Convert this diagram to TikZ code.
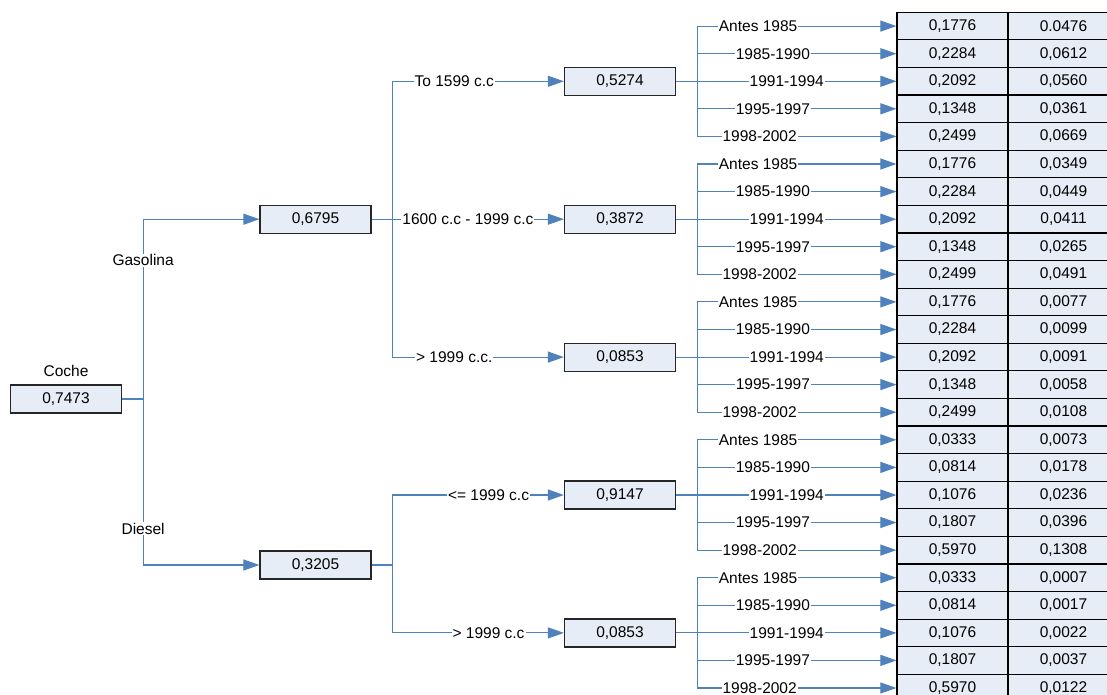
\documentclass[tikz,border=0pt]{standalone}
\usepackage{fontspec}
\setmainfont{Liberation Sans}
\usetikzlibrary{arrows.meta}
\definecolor{linkblue}{RGB}{79,129,189}
\definecolor{boxfill}{RGB}{231,237,247}

\begin{document}
\begin{tikzpicture}[x=1pt,y=-1pt,font=\fontsize{15.5}{18}\selectfont,
	link/.style={draw=linkblue,line width=1.1pt},
	arr/.style={link,-{Triangle[length=16pt,width=11pt]}},
	lbl/.style={fill=white,inner sep=1pt}]
	\clip (0,0) rectangle (1107,695);
	\begin{scope}[every node/.style={draw=black!85,fill=boxfill,line width=1.2pt,minimum width=111pt,minimum height=28pt,inner sep=0pt}]
		\node (coche) at (66,399) {0,7473};
		\node (gas) at (315.5,219.2) {0,6795};
		\node (die) at (315.5,565) {0,3205};
		\node (m1) at (620,81.3) {0,5274};
		\node (m2) at (620,219.2) {0,3872};
		\node (m3) at (620,357.1) {0,0853};
		\node (m4) at (620,495.0) {0,9147};
		\node (m5) at (620,632.9) {0,0853};
	\end{scope}
	\begin{scope}[every node/.style={draw=black,fill=boxfill,line width=1.2pt,minimum width=111pt,minimum height=27.6pt,inner sep=0pt}]
		\node (a1) at (952.5,26.1) {0,1776};
		\node (a2) at (952.5,53.7) {0,2284};
		\node (a3) at (952.5,81.3) {0,2092};
		\node (a4) at (952.5,108.8) {0,1348};
		\node (a5) at (952.5,136.4) {0,2499};
		\node (a6) at (952.5,164.0) {0,1776};
		\node (a7) at (952.5,191.6) {0,2284};
		\node (a8) at (952.5,219.2) {0,2092};
		\node (a9) at (952.5,246.7) {0,1348};
		\node (a10) at (952.5,274.3) {0,2499};
		\node (a11) at (952.5,301.9) {0,1776};
		\node (a12) at (952.5,329.5) {0,2284};
		\node (a13) at (952.5,357.1) {0,2092};
		\node (a14) at (952.5,384.6) {0,1348};
		\node (a15) at (952.5,412.2) {0,2499};
		\node (a16) at (952.5,439.8) {0,0333};
		\node (a17) at (952.5,467.4) {0,0814};
		\node (a18) at (952.5,495.0) {0,1076};
		\node (a19) at (952.5,522.5) {0,1807};
		\node (a20) at (952.5,550.1) {0,5970};
		\node (a21) at (952.5,577.7) {0,0333};
		\node (a22) at (952.5,605.3) {0,0814};
		\node (a23) at (952.5,632.9) {0,1076};
		\node (a24) at (952.5,660.4) {0,1807};
		\node (a25) at (952.5,688.0) {0,5970};
		\node (b1) at (1063.5,26.1) {0.0476};
		\node (b2) at (1063.5,53.7) {0,0612};
		\node (b3) at (1063.5,81.3) {0,0560};
		\node (b4) at (1063.5,108.8) {0,0361};
		\node (b5) at (1063.5,136.4) {0,0669};
		\node (b6) at (1063.5,164.0) {0,0349};
		\node (b7) at (1063.5,191.6) {0,0449};
		\node (b8) at (1063.5,219.2) {0,0411};
		\node (b9) at (1063.5,246.7) {0,0265};
		\node (b10) at (1063.5,274.3) {0,0491};
		\node (b11) at (1063.5,301.9) {0,0077};
		\node (b12) at (1063.5,329.5) {0,0099};
		\node (b13) at (1063.5,357.1) {0,0091};
		\node (b14) at (1063.5,384.6) {0,0058};
		\node (b15) at (1063.5,412.2) {0,0108};
		\node (b16) at (1063.5,439.8) {0,0073};
		\node (b17) at (1063.5,467.4) {0,0178};
		\node (b18) at (1063.5,495.0) {0,0236};
		\node (b19) at (1063.5,522.5) {0,0396};
		\node (b20) at (1063.5,550.1) {0,1308};
		\node (b21) at (1063.5,577.7) {0,0007};
		\node (b22) at (1063.5,605.3) {0,0017};
		\node (b23) at (1063.5,632.9) {0,0022};
		\node (b24) at (1063.5,660.4) {0,0037};
		\node (b25) at (1063.5,688.0) {0,0122};
	\end{scope}
	\node (cochelbl) at (66,371) {Coche};

	% fuel
	\draw[arr] (coche.east) -- ++(21,0) |- node[lbl,pos=0.386] {Gasolina} (gas.west);
	\draw[arr] (coche.east) -- ++(21,0) |- node[lbl,pos=0.39] {Diesel} (die.west);

	% engine size
	\draw[arr] (gas.east) -- ++(21,0) |- node[lbl,pos=0.68] {To 1599 c.c} (m1.west);
	\draw[arr] (gas.east) -- ++(21,0) |- node[lbl,pos=0.72] {1600 c.c - 1999 c.c} (m2.west);
	\draw[arr] (gas.east) -- ++(21,0) |- node[lbl,pos=0.68] {> 1999 c.c.} (m3.west);
	\draw[arr] (die.east) -- ++(21,0) |- node[lbl,pos=0.78] {<= 1999 c.c} (m4.west);
	\draw[arr] (die.east) -- ++(21,0) |- node[lbl,pos=0.78] {> 1999 c.c} (m5.west);

	% age
	\draw[arr] (m1.east) -- ++(21,0) |- node[lbl,pos=0.653] {Antes 1985} (a1.west);
	\draw[arr] (m1.east) -- ++(21,0) |- node[lbl,pos=0.69] {1985-1990} (a2.west);
	\draw[arr] (m1.east) -- ++(21,0) |- node[lbl,pos=0.725] {1991-1994} (a3.west);
	\draw[arr] (m1.east) -- ++(21,0) |- node[lbl,pos=0.69] {1995-1997} (a4.west);
	\draw[arr] (m1.east) -- ++(21,0) |- node[lbl,pos=0.657] {1998-2002} (a5.west);
	\draw[arr] (m2.east) -- ++(21,0) |- node[lbl,pos=0.653] {Antes 1985} (a6.west);
	\draw[arr] (m2.east) -- ++(21,0) |- node[lbl,pos=0.69] {1985-1990} (a7.west);
	\draw[arr] (m2.east) -- ++(21,0) |- node[lbl,pos=0.725] {1991-1994} (a8.west);
	\draw[arr] (m2.east) -- ++(21,0) |- node[lbl,pos=0.69] {1995-1997} (a9.west);
	\draw[arr] (m2.east) -- ++(21,0) |- node[lbl,pos=0.657] {1998-2002} (a10.west);
	\draw[arr] (m3.east) -- ++(21,0) |- node[lbl,pos=0.653] {Antes 1985} (a11.west);
	\draw[arr] (m3.east) -- ++(21,0) |- node[lbl,pos=0.69] {1985-1990} (a12.west);
	\draw[arr] (m3.east) -- ++(21,0) |- node[lbl,pos=0.725] {1991-1994} (a13.west);
	\draw[arr] (m3.east) -- ++(21,0) |- node[lbl,pos=0.69] {1995-1997} (a14.west);
	\draw[arr] (m3.east) -- ++(21,0) |- node[lbl,pos=0.657] {1998-2002} (a15.west);
	\draw[arr] (m4.east) -- ++(21,0) |- node[lbl,pos=0.653] {Antes 1985} (a16.west);
	\draw[arr] (m4.east) -- ++(21,0) |- node[lbl,pos=0.69] {1985-1990} (a17.west);
	\draw[arr] (m4.east) -- ++(21,0) |- node[lbl,pos=0.725] {1991-1994} (a18.west);
	\draw[arr] (m4.east) -- ++(21,0) |- node[lbl,pos=0.69] {1995-1997} (a19.west);
	\draw[arr] (m4.east) -- ++(21,0) |- node[lbl,pos=0.657] {1998-2002} (a20.west);
	\draw[arr] (m5.east) -- ++(21,0) |- node[lbl,pos=0.653] {Antes 1985} (a21.west);
	\draw[arr] (m5.east) -- ++(21,0) |- node[lbl,pos=0.69] {1985-1990} (a22.west);
	\draw[arr] (m5.east) -- ++(21,0) |- node[lbl,pos=0.725] {1991-1994} (a23.west);
	\draw[arr] (m5.east) -- ++(21,0) |- node[lbl,pos=0.69] {1995-1997} (a24.west);
	\draw[arr] (m5.east) -- ++(21,0) |- node[lbl,pos=0.657] {1998-2002} (a25.west);
\end{tikzpicture}
\end{document}
